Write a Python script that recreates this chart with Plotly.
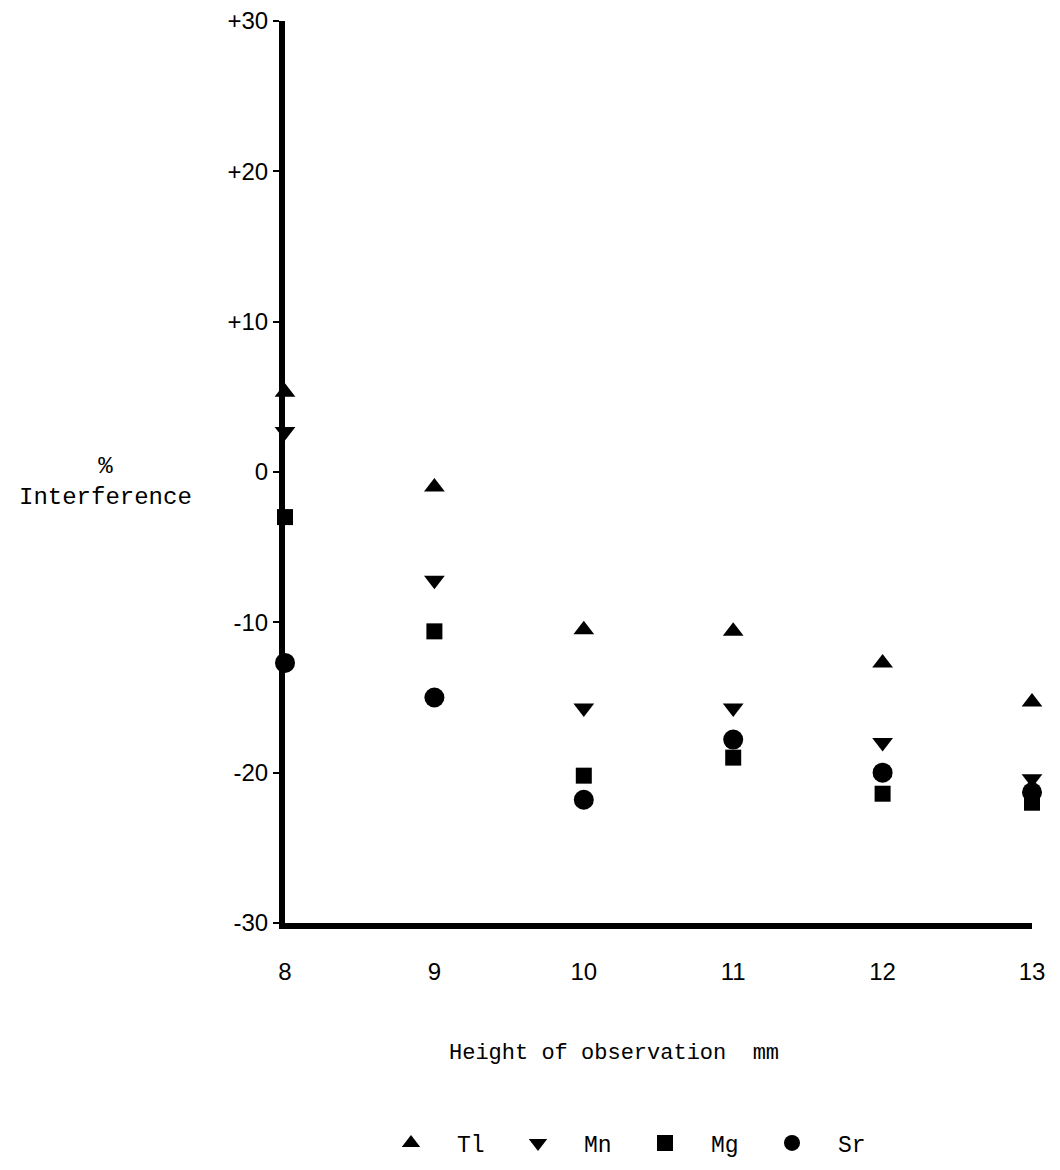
import plotly.graph_objects as go

# Observation heights (mm) and % interference for each element
heights = [8, 9, 10, 11, 12, 13]
tl = [5.3, -1.0, -10.5, -10.6, -12.7, -15.3]
mn = [2.7, -7.2, -15.7, -15.7, -18.0, -20.4]
mg = [-3.0, -10.6, -20.2, -19.0, -21.4, -22.0]
sr = [-12.7, -15.0, -21.8, -17.8, -20.0, -21.3]

y_tick_vals = [30, 20, 10, 0, -10, -20, -30]
y_tick_text = ["+30", "+20", "+10", "0", "-10", "-20", "-30"]
x_tick_vals = [8, 9, 10, 11, 12, 13]

series = [
    ("Tl", tl, "triangle-up", 18),
    ("Mn", mn, "triangle-down", 18),
    ("Mg", mg, "square", 16),
    ("Sr", sr, "circle", 20),
]

mono = "Liberation Mono"
sans = "Liberation Sans"

W, H = 1060, 1170
L, R, T, B = 285, 28, 21, 247
plot_w, plot_h = W - L - R, H - T - B


def px_x(px):
    return (px - L) / plot_w


def px_y(py):
    return 1 - (py - T) / plot_h


fig = go.Figure()
for name, vals, sym, size in series:
    fig.add_trace(go.Scatter(
        x=heights, y=vals, mode="markers", name=name,
        marker=dict(symbol=sym, size=size, color="black", line=dict(width=0)),
        cliponaxis=False,
    ))

fig.update_layout(
    width=W, height=H,
    margin=dict(l=L, r=R, t=T, b=B, autoexpand=False),
    paper_bgcolor="white", plot_bgcolor="white",
    showlegend=True,
    legend=dict(
        orientation="h", x=px_x(365), xanchor="left", y=px_y(1143), yanchor="middle",
        entrywidth=30, entrywidthmode="pixels", itemwidth=82,
        font=dict(family=mono, size=23, color="black"),
        itemsizing="trace", tracegroupgap=0,
    ),
    xaxis=dict(
        range=[8, 13], tickvals=x_tick_vals, showgrid=False, zeroline=False,
        showline=True, linewidth=6, linecolor="black", ticks="",
        tickfont=dict(family=sans, size=24, color="black"), ticklabelstandoff=22,
    ),
    yaxis=dict(
        range=[-30, 30], tickvals=y_tick_vals, ticktext=y_tick_text,
        showgrid=False, zeroline=False,
        showline=True, linewidth=6, linecolor="black",
        ticks="outside", ticklen=6, tickwidth=2, tickcolor="black",
        tickfont=dict(family=sans, size=24, color="black"),
    ),
    annotations=[
        dict(text="%<br>Interference", xref="paper", yref="paper",
             x=px_x(105), y=px_y(482), xanchor="center", yanchor="middle",
             showarrow=False, font=dict(family=mono, size=24, color="black"),
             align="center"),
        dict(text="Height of observation  mm", xref="paper", yref="paper",
             x=px_x(614), y=px_y(1053), xanchor="center", yanchor="middle",
             showarrow=False, font=dict(family=mono, size=22, color="black")),
    ],
)

fig.write_html("out.html")
